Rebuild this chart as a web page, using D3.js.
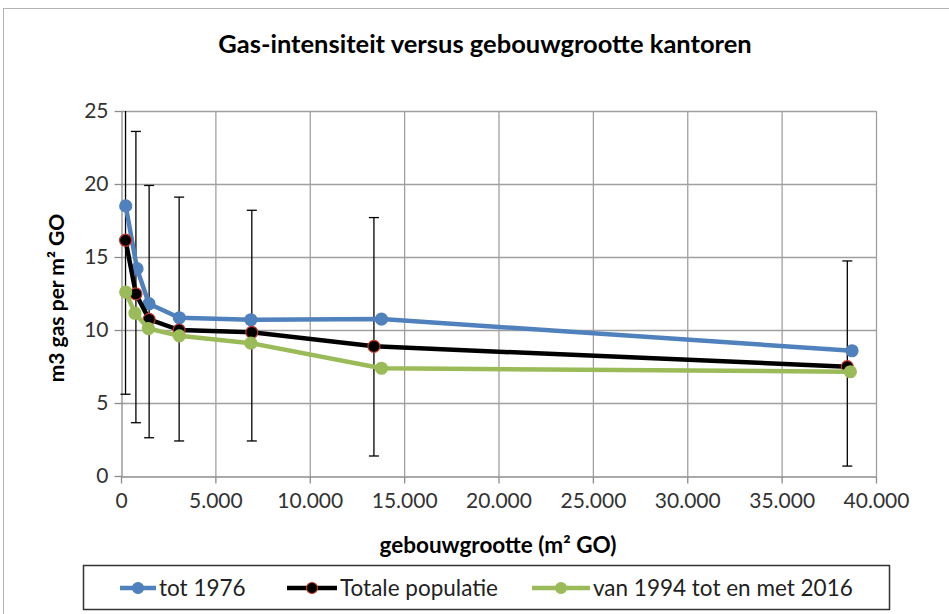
<!DOCTYPE html>
<html>
<head>
<meta charset="utf-8">
<script src="https://cdnjs.cloudflare.com/ajax/libs/d3/7.8.5/d3.min.js"></script>
<style>
  body { margin: 0; background: #fff; }
  svg { display: block; font-family: Lato, "Open Sans", sans-serif; }
</style>
</head>
<body>
<svg width="949" height="614"></svg>
<script>
// data
var seriesNames = ["tot 1976", "Totale populatie", "van 1994 tot en met 2016"];

var size_tot1976 = [250, 850, 1480, 3090, 6880, 13800, 38730];
var gas_tot1976 = [18.5, 14.2, 11.8, 10.84, 10.7, 10.75, 8.58];

var size_totaal = [240, 790, 1490, 3080, 6930, 13400, 38480];
var gas_totaal = [16.15, 12.47, 10.73, 10.0, 9.84, 8.88, 7.49];
var err_low = [5.6, 3.65, 2.62, 2.4, 2.4, 1.37, 0.68];
var err_high = [26.7, 23.6, 19.9, 19.1, 18.2, 17.7, 14.73];

var size_1994 = [250, 740, 1450, 3090, 6880, 13800, 38640];
var gas_1994 = [12.6, 11.15, 10.1, 9.6, 9.1, 7.38, 7.14];

var xTicks = [0, 5000, 10000, 15000, 20000, 25000, 30000, 35000, 40000];
var yTicks = [0, 5, 10, 15, 20, 25];

var svg = d3.select("svg");

var x = d3.scaleLinear().domain([0, 40000]).range([121, 876]);
var y = d3.scaleLinear().domain([0, 25]).range([476, 111]);

var fmt = function(d) { return d3.format(",")(d).replace(/,/g, "."); };

// outer chart border
svg.append("rect")
    .attr("x", 3.5).attr("y", 8.5)
    .attr("width", 990).attr("height", 640)
    .attr("fill", "none")
    .attr("stroke", "#b4b4b4");

svg.append("text")
    .attr("x", 485).attr("y", 53)
    .attr("text-anchor", "middle")
    .attr("font-size", 25.5)
    .attr("font-weight", "bold")
    .attr("fill", "#000")
    .text("Gas-intensiteit versus gebouwgrootte kantoren");

// gridlines
svg.append("g").selectAll("line")
    .data(yTicks.filter(function(d) { return d > 0; }))
    .enter().append("line")
      .attr("x1", x(0)).attr("x2", x(40000))
      .attr("y1", function(d) { return y(d) + 0.5; })
      .attr("y2", function(d) { return y(d) + 0.5; })
      .attr("stroke", "#a0a0a0").attr("stroke-width", 1.3);

svg.append("g").selectAll("line")
    .data(xTicks.filter(function(d) { return d > 0; }))
    .enter().append("line")
      .attr("x1", function(d) { return x(d) + 0.5; })
      .attr("x2", function(d) { return x(d) + 0.5; })
      .attr("y1", y(25)).attr("y2", y(0))
      .attr("stroke", "#a0a0a0").attr("stroke-width", 1.3);

// axes
var xAxis = svg.append("g")
    .attr("transform", "translate(0," + (y(0) + 0.5) + ")")
    .call(d3.axisBottom(x).tickValues(xTicks).tickFormat(fmt).tickSize(7).tickSizeOuter(0).tickPadding(10));

var yAxis = svg.append("g")
    .attr("transform", "translate(" + (x(0) + 0.5) + ",0)")
    .call(d3.axisLeft(y).tickValues(yTicks).tickSize(7).tickSizeOuter(0).tickPadding(6));

[xAxis, yAxis].forEach(function(ax) {
  ax.select(".domain").attr("stroke", "#8c8c8c").attr("stroke-width", 1.3);
  ax.selectAll(".tick line").attr("stroke", "#8c8c8c").attr("stroke-width", 1.3);
  ax.selectAll(".tick text")
      .attr("font-size", 21)
      .attr("font-family", "Lato, sans-serif")
      .attr("fill", "#333");
});

svg.append("text")
    .attr("x", 498).attr("y", 553)
    .attr("text-anchor", "middle")
    .attr("font-size", 22.5)
    .attr("font-weight", "bold")
    .text("gebouwgrootte (m² GO)");

svg.append("text")
    .attr("transform", "translate(64,298) rotate(-90)")
    .attr("text-anchor", "middle")
    .attr("font-size", 21)
    .attr("font-weight", "bold")
    .text("m3 gas per m² GO");

// clip for the plot area
svg.append("clipPath").attr("id", "plotclip")
  .append("rect")
    .attr("x", x(0) - 10).attr("y", y(25))
    .attr("width", x(40000) - x(0) + 20).attr("height", y(0) - y(25) + 10);

var plot = svg.append("g").attr("clip-path", "url(#plotclip)");

// error bars of the total population
var bars = plot.append("g").selectAll("g")
    .data(size_totaal)
    .enter().append("g");

bars.append("line")
    .attr("x1", function(d) { return x(d); })
    .attr("x2", function(d) { return x(d); })
    .attr("y1", function(d, i) { return y(err_low[i]); })
    .attr("y2", function(d, i) { return y(err_high[i]); })
    .attr("stroke", "#000").attr("stroke-width", 1.3);

bars.append("line")
    .attr("x1", function(d) { return x(d) - 5; })
    .attr("x2", function(d) { return x(d) + 5; })
    .attr("y1", function(d, i) { return y(err_low[i]); })
    .attr("y2", function(d, i) { return y(err_low[i]); })
    .attr("stroke", "#000").attr("stroke-width", 1.3);

bars.append("line")
    .attr("x1", function(d) { return x(d) - 5; })
    .attr("x2", function(d) { return x(d) + 5; })
    .attr("y1", function(d, i) { return y(err_high[i]); })
    .attr("y2", function(d, i) { return y(err_high[i]); })
    .attr("stroke", "#000").attr("stroke-width", 1.3);

var series = [
  {name: seriesNames[0], xs: size_tot1976, ys: gas_tot1976, color: "#4f81bd", edge: "#4f81bd"},
  {name: seriesNames[1], xs: size_totaal, ys: gas_totaal, color: "#000000", edge: "#c0392b"},
  {name: seriesNames[2], xs: size_1994, ys: gas_1994, color: "#9bbb59", edge: "#9bbb59"}
];

var line = d3.line()
    .x(function(d) { return x(d[0]); })
    .y(function(d) { return y(d[1]); });

series.forEach(function(s) {
  var pts = d3.zip(s.xs, s.ys);
  plot.append("path")
      .datum(pts)
      .attr("d", line)
      .attr("fill", "none")
      .attr("stroke", s.color)
      .attr("stroke-width", 4.5)
      .attr("stroke-linejoin", "round");
  plot.append("g").selectAll("circle")
      .data(pts)
      .enter().append("circle")
        .attr("cx", function(d) { return x(d[0]); })
        .attr("cy", function(d) { return y(d[1]); })
        .attr("r", 6)
        .attr("fill", s.color)
        .attr("stroke", s.edge)
        .attr("stroke-width", 1.2);
});

// legend
var legend = svg.append("g");
legend.append("rect")
    .attr("x", 83.5).attr("y", 565.5)
    .attr("width", 806).attr("height", 44)
    .attr("fill", "#fff")
    .attr("stroke", "#333").attr("stroke-width", 1.5);

var legendX = [120, 287, 532];
var legendW = [36, 50, 58];

series.forEach(function(s, i) {
  var g = legend.append("g").attr("transform", "translate(" + legendX[i] + ",588)");
  g.append("line")
      .attr("x1", 0).attr("x2", legendW[i])
      .attr("stroke", s.color).attr("stroke-width", 4.5);
  g.append("circle")
      .attr("cx", legendW[i] / 2).attr("r", 5.5)
      .attr("fill", s.color)
      .attr("stroke", s.edge).attr("stroke-width", 1.2);
  g.append("text")
      .attr("x", legendW[i] + 3).attr("y", 8)
      .attr("font-size", 22.5)
      .attr("fill", "#222")
      .text(s.name);
});
</script>
</body>
</html>
